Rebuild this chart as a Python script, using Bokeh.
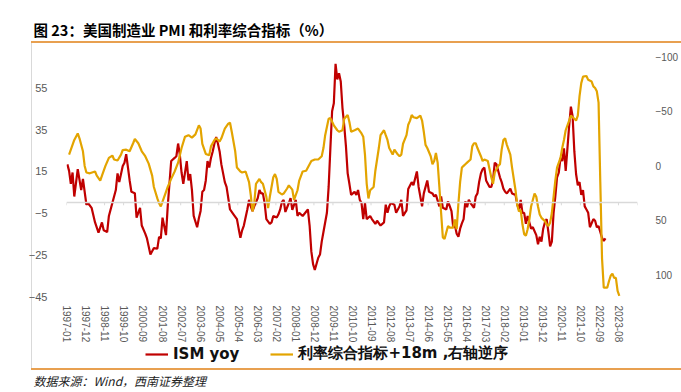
import pandas as pd
from bokeh.plotting import figure
from bokeh.layouts import column
from bokeh.models import (Range1d, LinearAxis, FixedTicker, Span, Legend, LegendItem, Title)
from bokeh.embed import file_html
from bokeh.resources import INLINE

# ---------------- data ----------------
first_month = "1997-01"
last_month = "2024-06"

tick_labels = ["1997-01", "1997-12", "1998-11", "1999-10", "2000-09", "2001-08", "2002-07",
               "2003-06", "2004-05", "2005-04", "2006-03", "2007-02", "2008-01", "2008-12",
               "2009-11", "2010-10", "2011-09", "2012-08", "2013-07", "2014-06", "2015-05",
               "2016-04", "2017-03", "2018-02", "2019-01", "2019-12", "2020-11", "2021-10",
               "2022-09", "2023-08"]

left_ticks = [-45, -25, -5, 15, 35, 55]
right_ticks = [-100, -50, 0, 50, 100]

ism_months = ["1997-01", "1997-02", "1997-03", "1997-04", "1997-05", "1997-07", "1997-09", "1997-10", "1997-12",
              "1998-01", "1998-03", "1998-05", "1998-07", "1998-09", "1998-10", "1998-12",
              "1999-01", "1999-03", "1999-05", "1999-06", "1999-07", "1999-09", "1999-10", "1999-11",
              "2000-01", "2000-02", "2000-04", "2000-05", "2000-07", "2000-08", "2000-10", "2000-11",
              "2001-01", "2001-03", "2001-05", "2001-06", "2001-07", "2001-08", "2001-10", "2001-11",
              "2002-01", "2002-03", "2002-04", "2002-05", "2002-06", "2002-07", "2002-08", "2002-10", "2002-11", "2002-12",
              "2003-01", "2003-02", "2003-04", "2003-05", "2003-06", "2003-07", "2003-08", "2003-09", "2003-10", "2003-11", "2003-12",
              "2004-01", "2004-02", "2004-03", "2004-04", "2004-05", "2004-06", "2004-08", "2004-09", "2004-11",
              "2005-01", "2005-03", "2005-04", "2005-05", "2005-06", "2005-07", "2005-09", "2005-10", "2005-11", "2005-12",
              "2006-01", "2006-03", "2006-04", "2006-05", "2006-06", "2006-07", "2006-08", "2006-10", "2006-11", "2006-12",
              "2007-02", "2007-03", "2007-04", "2007-05", "2007-06", "2007-07", "2007-09", "2007-10", "2007-11",
              "2008-01", "2008-02", "2008-03", "2008-05", "2008-08", "2008-09", "2008-10", "2008-11", "2008-12",
              "2009-02", "2009-03", "2009-04", "2009-05", "2009-07", "2009-08", "2009-09", "2009-10", "2009-11", "2009-12",
              "2010-01", "2010-02", "2010-03", "2010-04", "2010-05", "2010-06", "2010-07", "2010-08", "2010-09", "2010-10", "2010-11", "2010-12",
              "2011-01", "2011-02", "2011-03", "2011-04", "2011-05", "2011-06", "2011-08", "2011-09", "2011-11", "2011-12",
              "2012-02", "2012-04", "2012-05", "2012-06", "2012-07", "2012-08", "2012-10", "2012-11",
              "2013-01", "2013-02", "2013-03", "2013-05", "2013-06", "2013-08", "2013-09", "2013-11", "2013-12",
              "2014-02", "2014-03", "2014-05", "2014-06", "2014-08", "2014-09", "2014-10", "2014-12",
              "2015-01", "2015-02", "2015-04", "2015-05", "2015-07", "2015-08", "2015-09", "2015-10", "2015-11", "2015-12",
              "2016-01", "2016-02", "2016-03", "2016-04", "2016-05", "2016-06", "2016-08", "2016-09", "2016-10", "2016-11", "2016-12",
              "2017-01", "2017-02", "2017-03", "2017-05", "2017-06", "2017-07", "2017-08", "2017-09", "2017-11", "2017-12",
              "2018-01", "2018-02", "2018-03", "2018-05", "2018-06", "2018-08", "2018-09", "2018-10", "2018-11", "2018-12",
              "2019-01", "2019-02", "2019-03", "2019-05", "2019-06", "2019-08", "2019-09", "2019-10", "2019-11", "2019-12",
              "2020-01", "2020-02", "2020-03", "2020-04", "2020-05", "2020-06", "2020-07", "2020-08", "2020-09", "2020-10", "2020-11", "2020-12",
              "2021-01", "2021-02", "2021-03", "2021-04", "2021-05", "2021-06", "2021-07", "2021-08", "2021-09", "2021-10", "2021-11", "2021-12",
              "2022-01", "2022-02", "2022-03", "2022-05", "2022-06", "2022-07", "2022-08", "2022-09", "2022-10", "2022-11", "2022-12"]
ism_values = [18.3, 15.2, 9.0, 14.4, 2.9, 16, 6, 11.3, -1,
              -0.3, -2.5, -9.5, -14.4, -9.5, -13.3, -14.1,
              -6.4, -0.2, 6, 14, 9.8, 17.5, 19.1, 23.2,
              10.6, 5.2, 4.5, -7.2, -2.5, -11, -14.9, -17.2,
              -24.9, -21.8, -22.1, -16.4, -17.2, -7.2, -15.6, -1.8,
              19.9, 21.4, 22.2, 28.3, 22.9, 14.4, 9, 19.9, 10.6, 13.7,
              6, -6.4, -11.8, -7.5, -4, 5.2, 6, 10.6, 19.9, 16.8, 21.4,
              24.5, 28.3, 31.4, 28.3, 24.5, 18.3, 9.8, 7.5, -3.3,
              -5.6, -7.9, -12.5, -16.9, -13.3, -11, -3.3, 1.3, -1.8, -4.1,
              -1.8, 2.1, 6, 4.4, 4.4, -0.2, -7.9, -10.2, -9.5, -6.4,
              -7.2, -5.6, -3.3, 0.3, 1.3, -4.5, -0.2, 2.1, -3.5,
              1.3, -6.4, -4.9, -6.4, -3.3, -11, -23.4, -29.5, -32.3,
              -26.4, -24.9, -18.7, -14.1, -4.9, 7.5, 26, 43.8, 47.6, 66.5,
              59, 62, 58, 45.3, 37, 27, 14, 9, 3.7, 4.4, 5.2, 3.7,
              6, 1.3, -0.2, -7.9, -0.2, -7.9, -6.4, -7.9, -10.2, -8.7,
              -11, -9.5, -1, -4.9, -1.8, -0.2, -1, -4.9,
              -1.8, 1.3, -6.4, -3.7, 6.5, 9.8, 8.3, 14.9, 7.5,
              -1.8, 4.4, 10.6, 5.2, 4.4, 2.9, 3.7, -1.8,
              2.9, -2.5, -3.3, 0.6, -4.1, -11.8, -11, -14.9, -16.4, -12.5,
              -10, -7.9, 0.6, -2.2, 1.3, -0.2, -2.5, 2.9, 4.4, 10, 14,
              16, 16.8, 10.6, 7.5, 7.5, 10.6, 19.1, 18.3, 12.1, 9.8,
              6.7, 5.2, 4.4, 6.7, 4.4, 3.7, -1, -3.3, 1.3, -4.9,
              -4.9, -10.2, -6.4, -12.5, -11.8, -15.6, -20, -16.4, -18.7, -12.5,
              -9.5, -7.9, -14.1, -21, -18.7, -4.9, 2.9, 12.1, 14.4, 21.4, 19.9, 26,
              15.2, 26, 36.8, 46, 41.4, 24.5, 13.7, 8.3, 9.8, 3.7, 6, -1.8,
              -3.3, -4.9, -11.8, -7.9, -8.7, -11.8, -11.3, -14.1, -16.9, -18.4, -17.2]

rate_months = ["1997-02", "1997-05", "1997-07", "1997-08", "1997-10", "1997-11", "1997-12",
               "1998-02", "1998-05", "1998-06", "1998-08", "1998-09", "1998-11",
               "1999-01", "1999-03", "1999-04", "1999-06", "1999-08", "1999-09", "1999-11",
               "2000-01", "2000-03", "2000-04", "2000-06", "2000-08", "2000-10", "2000-12",
               "2001-02", "2001-03", "2001-05", "2001-06", "2001-07", "2001-08", "2001-10", "2001-11",
               "2002-01", "2002-03", "2002-05", "2002-07", "2002-09", "2002-11",
               "2003-01", "2003-03", "2003-05", "2003-06", "2003-07", "2003-09", "2003-11", "2003-12",
               "2004-02", "2004-03", "2004-05", "2004-06", "2004-08", "2004-10", "2004-11", "2004-12",
               "2005-02", "2005-03", "2005-05", "2005-06", "2005-08", "2005-10", "2005-11", "2005-12",
               "2006-01", "2006-02", "2006-04", "2006-05", "2006-06", "2006-08", "2006-09", "2006-10", "2006-12",
               "2007-01", "2007-02", "2007-03", "2007-05", "2007-06", "2007-08", "2007-09", "2007-11", "2007-12",
               "2008-02", "2008-03", "2008-05", "2008-07", "2008-10", "2008-12",
               "2009-02", "2009-04", "2009-05", "2009-06", "2009-07", "2009-08", "2009-09", "2009-11",
               "2010-01", "2010-02", "2010-04", "2010-05", "2010-07", "2010-08", "2010-09", "2010-11",
               "2011-01", "2011-03", "2011-04", "2011-05", "2011-06", "2011-07", "2011-08", "2011-10", "2011-11",
               "2012-01", "2012-02", "2012-04", "2012-05", "2012-06", "2012-07", "2012-09", "2012-10", "2012-12",
               "2013-01", "2013-02", "2013-03", "2013-05", "2013-06", "2013-07", "2013-08", "2013-09", "2013-11",
               "2014-01", "2014-02", "2014-03", "2014-04", "2014-05", "2014-07", "2014-08", "2014-09", "2014-10", "2014-11", "2014-12",
               "2015-01", "2015-02", "2015-03", "2015-05", "2015-06", "2015-08", "2015-09", "2015-10", "2015-11", "2015-12",
               "2016-01", "2016-02", "2016-03", "2016-04", "2016-06", "2016-07", "2016-08", "2016-09", "2016-10", "2016-12",
               "2017-01", "2017-02", "2017-04", "2017-05", "2017-06", "2017-07", "2017-08", "2017-10", "2017-11", "2017-12",
               "2018-01", "2018-02", "2018-03", "2018-05", "2018-06", "2018-08", "2018-09", "2018-10", "2018-11", "2018-12",
               "2019-01", "2019-02", "2019-03", "2019-04", "2019-05", "2019-07", "2019-08", "2019-09", "2019-10", "2019-11",
               "2020-01", "2020-02", "2020-03", "2020-04", "2020-05", "2020-06", "2020-07", "2020-08", "2020-10", "2020-11", "2020-12",
               "2021-01", "2021-03", "2021-04", "2021-06", "2021-07", "2021-08", "2021-09", "2021-10", "2021-11",
               "2022-01", "2022-02", "2022-04", "2022-05", "2022-06", "2022-07", "2022-08", "2022-09", "2022-10", "2022-11",
               "2023-01", "2023-02", "2023-03", "2023-04", "2023-05", "2023-06", "2023-07", "2023-08"]
rate_values = [-10.1, -23.5, -29.5, -25, -13.1, 0.3, 6.3,
               7.1, 5.4, 9.2, 13.7, 9.2, 0.3,
               -7.1, -9.2, -5.6, -4.7, -10.1, -14.3, -14.6,
               -13.1, -20.5, -24.4, -20.5, -13.1, -8.6, -1.8,
               9.2, 19.6, 30.1, 34.6, 37.5, 33, 24.1, 19.6,
               12.2, 5.4, -2.7, -16.1, -26.5, -27.9,
               -25.6, -28.6, -36.9, -33.9, -20, -10.7, -9.5, -17.6,
               -23.5, -25, -22, -25, -33.9, -38.4, -39.3, -31,
               -13.1, 1.8, 5.4, 6.3, 5.4, 15.2, 27.1, 42,
               34.6, 16.7, 12.2, 15.2, 16.7, 28.6, 39, 28.6, 10.7,
               7.8, 12.2, 24, 26.5, 25.6, 21, 18.1, 22, 31.5,
               22.6, 13.7, 5.4, 4.7, -4.2, -5.6,
               -5.6, -8.6, -16.1, -27.9, -35.4, -42.9, -43.5, -36.9,
               -32.4, -31, -32.4, -42.9, -46.4, -39.9, -31, -32.4,
               -33.9, -29.5, -26.5, -10.1, 16.7, 30.1, 22.6, 19.6, 4.7,
               -16.1, -27.9, -32.4, -27.9, -23.5, -16.1, -10.1, -14.6, -10.1,
               -8.6, -10, -20, -27.9, -37.5, -41, -46.4, -44.3, -43.5,
               -45.8, -41.3, -31, -19, -16.1, -8.6, -1.2, -4.2, -11.6, -2.7, 19.6,
               43.5, 65.8, 67.2, 55.4, 56.9, 56.9, 49.4, 58.3, 34.6, 15,
               1.8, 0.3, -1.2, -2.7, -5.6, -17.6, -20.5, -20.5, -16.1, -8.6,
               -4.2, -5.6, -4.2, 3.3, 10.7, 16.7, 6.3, 0.3, -1.2, -14.6,
               -23.5, -25, -19, -10.1, 1.8, 22.6, 36, 42, 40.5, 53.8,
               62.8, 64.3, 58.3, 49.4, 37.5, 25.6, 28.6, 37.5, 44.9, 47.9,
               50.9, 53.8, 55.4, 52.4, 43.5, 28.6, 13.7, 1.8, -7.1, -16.1, -23.5,
               -32.4, -41.3, -45.8, -42.9, -41.3, -45.8, -63.7, -75.6, -81.5,
               -82.1, -78.6, -77, -72.6, -71.1, -68.1, -57.7, 15, 85, 111.9,
               111.9, 106, 101, 99, 103, 103, 114.9, 119.4]

title_text = "图 23：美国制造业 PMI 和利率综合指标（%）"
source_text = "数据来源：Wind，西南证券整理"
ism_label = "ISM yoy"
rate_label = "利率综合指标+18m ,右轴逆序"

# ---------------- category (month) axis ----------------
months = [str(m) for m in pd.period_range(first_month, last_month, freq="M")]
pos = {m: i for i, m in enumerate(months)}
ism_x = [pos[m] for m in ism_months]
rate_x = [pos[m] for m in rate_months]
tick_x = [pos[m] for m in tick_labels]
tick_edges = [t - 0.5 for t in tick_x] + [len(months) - 0.5]

RED = "#C00000"
GOLD = "#E3A400"
RULE = "#E8A050"
GREY_RULE = "#D9D9D9"
AXIS_TXT = "#595959"
W = 681

# ================= main chart =================
p = figure(width=W, height=345, output_backend="svg", toolbar_location=None,
           x_range=Range1d(-0.5, len(months) - 0.5), y_range=Range1d(-45, 70),
           min_border_left=66, min_border_right=41, min_border_top=55, min_border_bottom=42)
p.extra_y_ranges = {"rate": Range1d(start=120, end=-100)}
p.outline_line_color = None
p.xgrid.visible = False
p.ygrid.visible = False
p.background_fill_color = "white"
p.border_fill_alpha = 0
# page rules: orange rule under the title, grey left margin line
p.styles = {
    "background-color": "white",
    "background-image": "linear-gradient(%s, %s), linear-gradient(%s, %s)"
                        % (RULE, RULE, GREY_RULE, GREY_RULE),
    "background-repeat": "no-repeat",
    "background-size": "650px 2px, 1px 302px",
    "background-position": "31px 41px, 31px 43px",
}

p.title = Title(text=title_text, align="left", offset=-33, standoff=33,
                text_font="Noto Sans CJK SC", text_font_size="14.5px",
                text_font_style="bold", text_color="#000000")

xa = p.xaxis[0]
xa.ticker = FixedTicker(ticks=tick_x)
xa.major_label_overrides = {t: lab for t, lab in zip(tick_x, tick_labels)}
xa.major_label_orientation = "vertical"
xa.axis_line_color = None
xa.major_tick_line_color = None
xa.minor_tick_line_color = None
xa.major_label_standoff = 3
xa.major_label_text_font = "Arial"
xa.major_label_text_font_size = "10px"
xa.major_label_text_color = AXIS_TXT

ya = p.yaxis[0]
ya.ticker = FixedTicker(ticks=left_ticks)
ya.axis_line_color = None
ya.major_tick_line_color = None
ya.minor_tick_line_color = None
ya.major_label_standoff = 13
ya.major_label_text_font = "Arial"
ya.major_label_text_font_size = "11px"
ya.major_label_text_color = AXIS_TXT

ra = LinearAxis(y_range_name="rate", ticker=FixedTicker(ticks=right_ticks))
ra.axis_line_color = None
ra.major_tick_line_color = None
ra.minor_tick_line_color = None
ra.major_label_standoff = 12
ra.major_label_text_font = "Arial"
ra.major_label_text_font_size = "10px"
ra.major_label_text_color = AXIS_TXT
p.add_layout(ra, "right")

p.add_layout(Span(location=0, dimension="width", line_color=GREY_RULE, line_width=1.5))
p.segment(x0=tick_edges, x1=tick_edges, y0=[0] * len(tick_edges), y1=[-1.3] * len(tick_edges),
          line_color=GREY_RULE, line_width=1)

p.line(ism_x, ism_values, line_color=RED, line_width=2.2)
p.line(rate_x, rate_values, y_range_name="rate", line_color=GOLD, line_width=2.2)

# ================= legend + source strip =================
f = figure(width=W, height=47, output_backend="svg", toolbar_location=None,
           x_range=Range1d(0, 1), y_range=Range1d(0, 1), x_axis_type=None, y_axis_type=None,
           min_border_left=66, min_border_right=41, min_border_top=0, min_border_bottom=23)
f.outline_line_color = None
f.background_fill_alpha = 0
f.border_fill_alpha = 0
f.styles = {
    "background-color": "white",
    "background-image": "linear-gradient(%s, %s), linear-gradient(%s, %s)"
                        % (RULE, RULE, GREY_RULE, GREY_RULE),
    "background-repeat": "no-repeat",
    "background-size": "650px 2px, 1px 24px",
    "background-position": "31px 23px, 31px 0px",
}
# legend keys: renderers with no visible data, carrying only the series styles
nan = float("nan")
k_ism = f.line(x=[nan], y=[nan], line_color=RED, line_width=2.2)
k_rate = f.line(x=[nan], y=[nan], line_color=GOLD, line_width=2.2)
legend = Legend(items=[LegendItem(label=ism_label, renderers=[k_ism]),
                       LegendItem(label=rate_label, renderers=[k_rate])],
                orientation="horizontal", location=(79, 3))
legend.border_line_color = None
legend.background_fill_alpha = 0
legend.padding = 0
legend.margin = 0
legend.spacing = 31
legend.glyph_width = 23
legend.glyph_height = 18
legend.label_standoff = 5
legend.label_text_font = "DejaVu Sans"
legend.label_text_font_style = "bold"
legend.label_text_font_size = "15px"
legend.label_text_color = "#111111"
f.add_layout(legend)

f.add_layout(Title(text=source_text, align="left", offset=-33, standoff=7,
                   text_font="Noto Sans CJK SC", text_font_size="12px",
                   text_font_style="italic", text_color="#222222"), "below")

page = column(p, f, spacing=0)
open("out.html", "w").write(file_html(page, INLINE))
